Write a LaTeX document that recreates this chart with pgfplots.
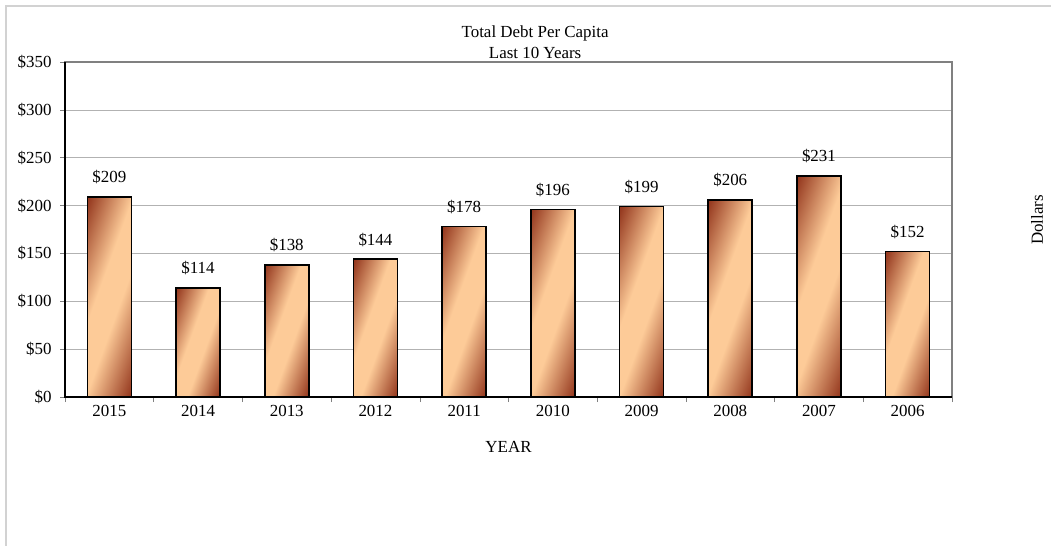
\documentclass[border=0pt]{standalone}
\usepackage{fontspec}
\setmainfont{Liberation Serif}
\usepackage{pgfplots}
\pgfplotsset{compat=1.18}

\definecolor{barDark}{RGB}{150,58,32}
\definecolor{barLight}{RGB}{253,203,152}
\definecolor{frameGray}{RGB}{128,128,128}
\definecolor{gridGray}{RGB}{178,178,178}

% near-horizontal gradient: dark top-left and bottom-right, light middle
\pgfdeclareverticalshading{barshade}{100bp}{
    color(0bp)=(barDark); color(19bp)=(barDark);
    color(43bp)=(barLight); color(57bp)=(barLight);
    color(81bp)=(barDark); color(100bp)=(barDark)}

\pgfplotsset{
    debtbar/.style = {
        draw = black,
        line width = 1.6bp,
        shading = barshade,
        shading angle = 70,
        bar shift = 0pt
    }
}

\begin{document}
\begin{tikzpicture}
    \path[use as bounding box] (0,0) rectangle (1051bp,-546bp);
    \draw[gray!35, line width=1.2bp] (6bp,-546bp) -- (6bp,-6bp) -- (1051bp,-6bp);

    \begin{axis}[
        at = {(65bp,-62bp)},
        anchor = north west,
        scale only axis,
        width = 887bp,
        height = 335bp,
        ybar,
        bar width = 44bp,
        xmin = 0.5, xmax = 10.5,
        ymin = 0, ymax = 350,
        ytick distance = 50,
        xtick = {1,...,10},
        xticklabels = {2015,2014,2013,2012,2011,2010,2009,2008,2007,2006},
        minor xtick = {0.5,1.5,...,10.5},
        tick align = outside,
        major tick length = 5bp,
        minor tick length = 5bp,
        major x tick style = {draw=none},
        minor x tick style = {draw=frameGray, line width=0.6bp},
        y tick style = {draw=frameGray, line width=0.6bp},
        xtick pos = bottom,
        ytick pos = left,
        ymajorgrids,
        grid style = {draw=gridGray, line width=0.7bp},
        axis line style = {draw=frameGray, line width=1.2bp},
        /pgf/number format/assume math mode = true,
        yticklabel = {\$\pgfmathprintnumber{\tick}},
        ticklabel style = {font=\fontsize{17}{20}\selectfont},
        yticklabel style = {xshift=-5bp},
        xlabel = {YEAR},
        xlabel style = {at={(axis description cs:0.5,-0.149)}, anchor=center, font=\fontsize{17}{20}\selectfont},
        title = {Total Debt Per Capita\\Last 10 Years},
        title style = {at={(axis description cs:0.53,1)}, anchor=south, inner sep=0pt, yshift=-3bp, align=center, font=\fontsize{17}{21}\selectfont},
        nodes near coords = {\$\pgfmathprintnumber{\pgfplotspointmeta}},
        nodes near coords style = {font=\fontsize{17}{20}\selectfont, anchor=base, yshift=14bp},
        clip = false
    ]
        \addplot[debtbar] coordinates {(1,209)};
        \addplot[debtbar] coordinates {(2,114)};
        \addplot[debtbar] coordinates {(3,138)};
        \addplot[debtbar] coordinates {(4,144)};
        \addplot[debtbar] coordinates {(5,178)};
        \addplot[debtbar] coordinates {(6,196)};
        \addplot[debtbar] coordinates {(7,199)};
        \addplot[debtbar] coordinates {(8,206)};
        \addplot[debtbar] coordinates {(9,231)};
        \addplot[debtbar] coordinates {(10,152)};
        \draw[black, line width=1.4bp] (rel axis cs:0,1) -- (rel axis cs:0,0) -- (rel axis cs:1,0);
    \end{axis}

    \node[rotate=90, font=\fontsize{17}{20}\selectfont] at (1037bp,-220bp) {Dollars};
\end{tikzpicture}
\end{document}
